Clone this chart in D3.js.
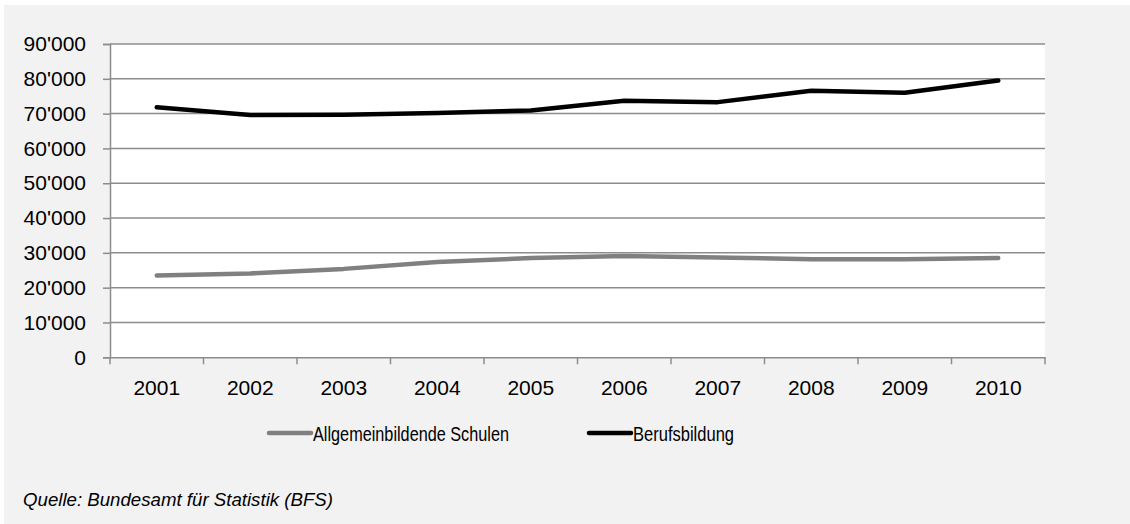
<!DOCTYPE html>
<html>
<head>
<meta charset="utf-8">
<script src="https://cdn.jsdelivr.net/npm/d3@7"></script>
<style>
  html, body { margin: 0; padding: 0; background: #ffffff; }
  svg { display: block; }
</style>
</head>
<body>
<svg id="chart" width="1130" height="524"></svg>
<script>
const years = ["2001","2002","2003","2004","2005","2006","2007","2008","2009","2010"];
const allgemeinbildende = [23500, 24100, 25400, 27400, 28500, 29100, 28700, 28200, 28200, 28500];
const berufsbildung = [71800, 69600, 69700, 70200, 70900, 73700, 73300, 76600, 76000, 79500];
const seriesNames = ["Allgemeinbildende Schulen", "Berufsbildung"];
const seriesColors = ["#808080", "#000000"];
const yTicks = [0, 10000, 20000, 30000, 40000, 50000, 60000, 70000, 80000, 90000];
const sourceText = "Quelle: Bundesamt für Statistik (BFS)";

(function () {
const svg = d3.select("#chart");
const font = "'Liberation Sans', Arial, sans-serif";
const narrow = "'Liberation Sans Narrow', 'Liberation Sans', Arial, sans-serif";

// background
svg.append("rect").attr("x", 4).attr("y", 5).attr("width", 1126).attr("height", 519).attr("fill", "#f2f2f2");

const pLeft = 110, pRight = 1045, pTop = 44, pBottom = 357.3;
svg.append("rect").attr("x", pLeft).attr("y", pTop).attr("width", pRight - pLeft).attr("height", pBottom - pTop).attr("fill", "#ffffff");

const x = d3.scaleBand().domain(years).range([pLeft, pRight]);
const y = d3.scaleLinear().domain([0, 90000]).range([pBottom, pTop]);

const loc = d3.formatLocale({decimal: ".", thousands: "'", grouping: [3], currency: ["", ""]});
const fmt = loc.format(",");

const gridColor = "#8c8c8c";

// gridlines
svg.append("g").selectAll("line").data(yTicks.filter(d => d > 0)).join("line")
  .attr("x1", pLeft).attr("x2", pRight)
  .attr("y1", d => y(d)).attr("y2", d => y(d))
  .attr("stroke", gridColor).attr("stroke-width", 1.5);

// y axis
const yAxis = svg.append("g").attr("transform", `translate(${pLeft},0)`)
  .call(d3.axisLeft(y).tickValues(yTicks).tickFormat(fmt).tickSize(7).tickPadding(17));
yAxis.select(".domain").attr("stroke", gridColor).attr("stroke-width", 1.5);
yAxis.selectAll(".tick line").attr("stroke", gridColor).attr("stroke-width", 1.5);
yAxis.selectAll("text").attr("font-family", font).attr("font-size", 21).attr("fill", "#000");

// x axis
const xAxis = svg.append("g").attr("transform", `translate(0,${pBottom})`)
  .call(d3.axisBottom(x).tickSize(0).tickPadding(23));
xAxis.select(".domain").attr("stroke", gridColor).attr("stroke-width", 1.5);
xAxis.selectAll("text").attr("font-family", font).attr("font-size", 21).attr("fill", "#000");
// category boundary ticks
const bounds = years.map(d => x(d)).concat([x(years[years.length - 1]) + x.bandwidth()]);
svg.append("g").selectAll("line").data(bounds).join("line")
  .attr("x1", d => d).attr("x2", d => d)
  .attr("y1", pBottom).attr("y2", pBottom + 7)
  .attr("stroke", gridColor).attr("stroke-width", 1.5);

// lines
const line = d3.line().x((d, i) => x(years[i]) + x.bandwidth() / 2).y(d => y(d));
[allgemeinbildende, berufsbildung].forEach((s, i) => {
  svg.append("path").datum(s).attr("d", line)
    .attr("fill", "none").attr("stroke", seriesColors[i])
    .attr("stroke-width", 4.5).attr("stroke-linecap", "round").attr("stroke-linejoin", "round");
});

// legend
const legendX = [269, 589];
const legendW = [196, 101];
seriesNames.forEach((name, i) => {
  svg.append("line").attr("x1", legendX[i]).attr("x2", legendX[i] + 42)
    .attr("y1", 433).attr("y2", 433)
    .attr("stroke", seriesColors[i]).attr("stroke-width", 4.5).attr("stroke-linecap", "round");
  svg.append("text").attr("x", legendX[i] + 44).attr("y", 440.5)
    .attr("font-family", narrow).attr("font-size", 21).attr("fill", "#000")
    .attr("textLength", legendW[i]).attr("lengthAdjust", "spacingAndGlyphs")
    .text(name);
});

// source
svg.append("text").attr("x", 23).attr("y", 506)
  .attr("font-family", narrow).attr("font-size", 19).attr("font-style", "italic").attr("fill", "#000")
  .attr("textLength", 310).attr("lengthAdjust", "spacingAndGlyphs")
  .text(sourceText);
})();
</script>
</body>
</html>
